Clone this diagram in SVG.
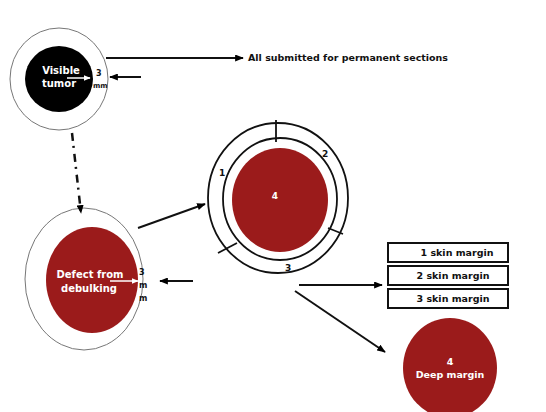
<svg xmlns="http://www.w3.org/2000/svg" width="546" height="412" viewBox="0 0 546 412">
<defs>
<marker id="ab" viewBox="0 0 10 8" refX="9" refY="4" markerWidth="9" markerHeight="7" markerUnits="userSpaceOnUse" orient="auto"><path d="M0,0 L10,4 L0,8 Z" fill="#000"/></marker>
<marker id="aw" viewBox="0 0 10 8" refX="9" refY="4" markerWidth="7" markerHeight="6" markerUnits="userSpaceOnUse" orient="auto"><path d="M0,0 L10,4 L0,8 Z" fill="#fff"/></marker>
</defs>
<style>
.t{font-family:"DejaVu Sans",sans-serif;font-weight:bold;}
.w{fill:#fff;}
.k{fill:#111;}
.ln{stroke:#111;stroke-width:2;fill:none;}
.wl{stroke:#fff;stroke-width:1.5;fill:none;}
.outer{fill:#fff;stroke:#777;stroke-width:1;}
.red{fill:#9b1b1b;}
.ring{fill:none;stroke:#111;stroke-width:1.8;}
.box{fill:#fff;stroke:#111;stroke-width:2;}
</style>
<rect width="546" height="412" fill="#fff"/>

<g id="visible-tumor">
<ellipse class="outer" cx="59" cy="79" rx="49" ry="51"/>
<ellipse cx="59" cy="79" rx="34" ry="33" fill="#000"/>
<text class="t w" x="61" y="74" font-size="10" text-anchor="middle">Visible</text>
<text class="t w" x="59" y="87" font-size="10" text-anchor="middle">tumor</text>
<line class="wl" x1="67" y1="78" x2="90" y2="78" marker-end="url(#aw)"/>
<text class="t k" x="96" y="76" font-size="8">3</text>
<text class="t k" x="93" y="88" font-size="7">mm</text>
</g>

<g id="permanent-label">
<text class="t k" x="248" y="61" font-size="9.5" textLength="200" lengthAdjust="spacingAndGlyphs">All submitted for permanent sections</text>
</g>

<g id="debulking-defect">
<ellipse class="outer" cx="84" cy="279" rx="59" ry="71"/>
<ellipse class="red" cx="92" cy="280" rx="46" ry="53"/>
<text class="t w" x="90" y="278" font-size="10" text-anchor="middle">Defect from</text>
<text class="t w" x="89" y="292" font-size="10" text-anchor="middle">debulking</text>
<line class="wl" x1="110" y1="281" x2="138" y2="281" marker-end="url(#aw)"/>
<text class="t k" x="139" y="275" font-size="8">3</text>
<text class="t k" x="139" y="288" font-size="8">m</text>
<text class="t k" x="139" y="301" font-size="8">m</text>
</g>

<g id="margin-ring">
<ellipse class="ring" cx="278" cy="198" rx="70" ry="75"/>
<ellipse class="ring" cx="280" cy="199" rx="57" ry="61"/>
<ellipse class="red" cx="280" cy="200" rx="48" ry="52"/>
<line class="ring" x1="276" y1="120" x2="276" y2="142"/>
<line class="ring" x1="328" y1="228" x2="343" y2="234"/>
<line class="ring" x1="218" y1="253" x2="237" y2="243"/>
<text class="t k" x="219" y="176" font-size="9">1</text>
<text class="t k" x="322" y="157" font-size="9">2</text>
<text class="t k" x="285" y="271" font-size="9">3</text>
<text class="t w" x="275" y="199" font-size="9" text-anchor="middle">4</text>
</g>

<g id="skin-margins">
<rect class="box" x="388" y="243" width="120" height="19"/>
<text class="t k" x="457" y="256" font-size="9.5" text-anchor="middle">1 skin margin</text>
<rect class="box" x="388" y="266" width="120" height="19"/>
<text class="t k" x="453" y="279" font-size="9.5" text-anchor="middle">2 skin margin</text>
<rect class="box" x="388" y="289" width="120" height="19"/>
<text class="t k" x="453" y="302" font-size="9.5" text-anchor="middle">3 skin margin</text>
</g>

<g id="deep-margin">
<ellipse class="red" cx="450" cy="368" rx="47" ry="50"/>
<text class="t w" x="450" y="365" font-size="9.5" text-anchor="middle">4</text>
<text class="t w" x="450" y="378" font-size="9.5" text-anchor="middle">Deep margin</text>
</g>

<g id="connectors">
<line class="ln" x1="106" y1="58" x2="243" y2="58" marker-end="url(#ab)"/>
<line class="ln" x1="141" y1="77" x2="110" y2="77" marker-end="url(#ab)"/>
<line x1="72" y1="133" x2="81" y2="213" stroke="#111" stroke-width="2.5" stroke-dasharray="8 5 2 6" marker-end="url(#ab)"/>
<line class="ln" x1="138" y1="228" x2="205" y2="204" marker-end="url(#ab)"/>
<line class="ln" x1="193" y1="281" x2="160" y2="281" marker-end="url(#ab)"/>
<line class="ln" x1="299" y1="285" x2="382" y2="285" marker-end="url(#ab)"/>
<line class="ln" x1="295" y1="291" x2="385" y2="352" marker-end="url(#ab)"/>
</g>
</svg>
